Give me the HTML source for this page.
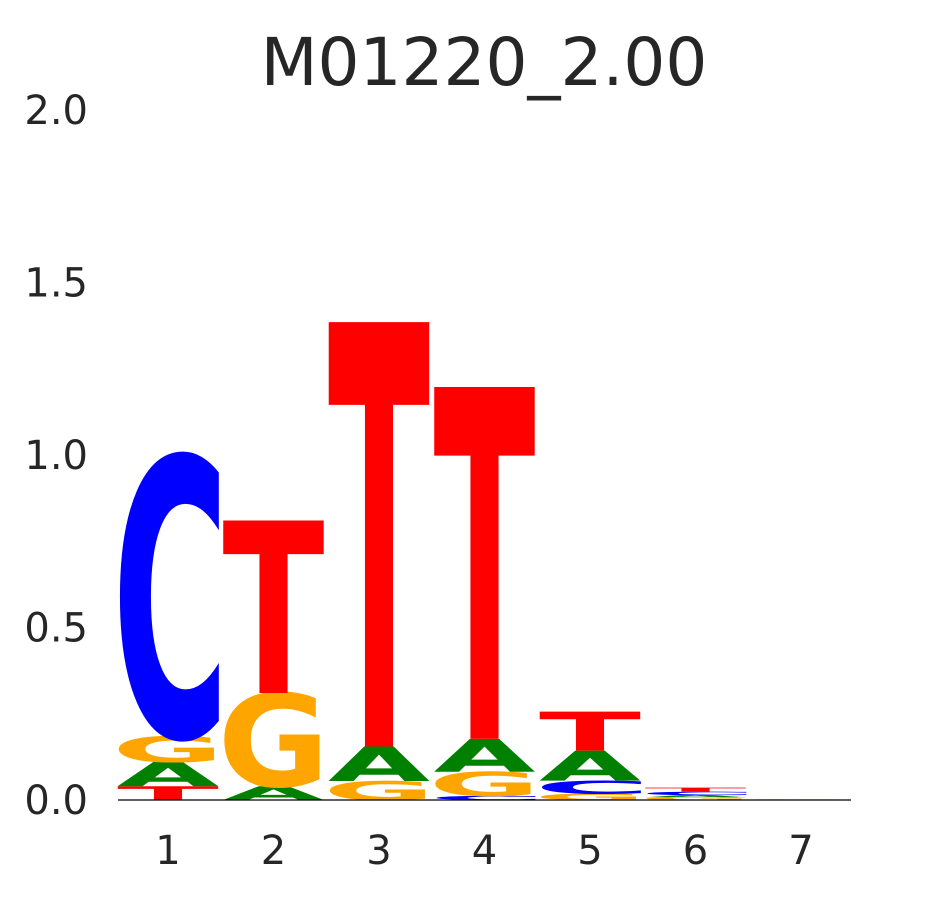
<!DOCTYPE html>
<html><head><meta charset="utf-8"><style>
body{margin:0;background:#fff;}
svg{display:block;font-family:"DejaVu Sans","Liberation Sans",sans-serif;}
</style></head><body>
<svg id="chart" width="945" height="900">
<text x="484" y="85" text-anchor="middle" font-size="66" fill="#262626">M01220_2.00</text>
<g id="yaxis"></g>
<g id="xaxis"></g>
<g id="letters"></g>
<line x1="118" y1="800" x2="851" y2="800" stroke="#000" stroke-width="1.2"/>
</svg>
<script>
const positions = ["1","2","3","4","5","6","7"];
const yTicks = [0, 0.5, 1.0, 1.5, 2.0];
const yTickLabels = ["0.0","0.5","1.0","1.5","2.0"];
// stacks bottom->top: [letter, bits]
const col1 = [["T",0.04],["A",0.07],["G",0.075],["C",0.81]];
const col2 = [["A",0.04],["G",0.27],["T",0.50]];
const col3 = [["G",0.055],["A",0.10],["T",1.23]];
const col4 = [["C",0.012],["G",0.07],["A",0.095],["T",1.02]];
const col5 = [["G",0.018],["C",0.038],["A",0.087],["T",0.113]];
const col6 = [["G",0.008],["A",0.006],["C",0.01],["T",0.012]];
const col7 = [["A",0.001],["G",0.001]];
const columns = [col1,col2,col3,col4,col5,col6,col7];
const colors = {A:"#008000",C:"#0000ff",G:"#ffa500",T:"#ff0000"};
// per-glyph fit (text length, x offset) in 100-unit box
const fitLen = {A:102,C:117,G:112,T:102};
const fitOff = {A:-1,C:-6,G:-6,T:-1};

const NS="http://www.w3.org/2000/svg";
const y = v => 800 - v*345;
const xLeft = i => 118 + i*105.5;
const colW = 100;

const ya=document.getElementById('yaxis');
yTicks.forEach((t,i)=>{
  const e=document.createElementNS(NS,'text');
  
  
  e.setAttribute('x',88);e.setAttribute('y',y(t)+14);
  e.setAttribute('text-anchor','end');e.setAttribute('font-size','40');e.setAttribute('fill','#262626');
  e.textContent=yTickLabels[i];ya.appendChild(e);
});
const xa=document.getElementById('xaxis');
positions.forEach((p,i)=>{
  const e=document.createElementNS(NS,'text');
  
  
  e.setAttribute('x',xLeft(i)+colW/2);e.setAttribute('y',864);
  e.setAttribute('text-anchor','middle');e.setAttribute('font-size','40');e.setAttribute('fill','#262626');
  e.textContent=p;xa.appendChild(e);
});
const lg=document.getElementById('letters');
columns.forEach((col,i)=>{
  let acc=0;
  col.forEach(([L,h])=>{
    const yb=y(acc), yt=y(acc+h); acc+=h;
    const ph=yb-yt; if(ph<=0) return;
    const t=document.createElementNS(NS,'text');
    
    
    t.setAttribute('x',fitOff[L]);t.setAttribute('y',0);
    t.setAttribute('font-size','100');t.setAttribute('font-weight','bold');
    t.setAttribute('font-family','DejaVu Sans, sans-serif');
    t.setAttribute('textLength',fitLen[L]);t.setAttribute('lengthAdjust','spacingAndGlyphs');
    t.setAttribute('fill',colors[L]);
    t.setAttribute('transform',`translate(${xLeft(i)},${yb}) scale(${colW/100},${ph/72.9})`);
    t.textContent=L;lg.appendChild(t);
  });
});
</script>
</body></html>
